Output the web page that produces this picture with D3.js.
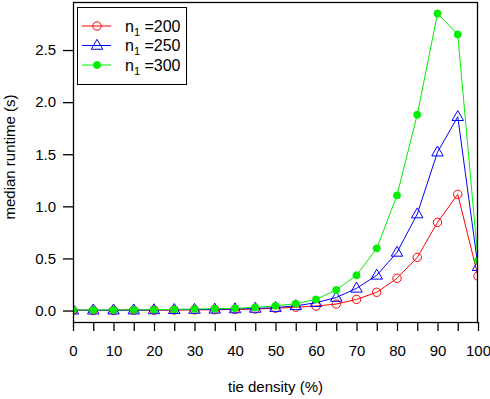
<!DOCTYPE html>
<html>
<head>
<meta charset="utf-8">
<script src="https://cdn.jsdelivr.net/npm/d3@7"></script>
<style>
  html, body { margin: 0; padding: 0; background: #fff; }
  svg { display: block; font-family: "Liberation Sans", Arial, sans-serif; }
</style>
</head>
<body>
<svg id="chart" width="490" height="399"></svg>
<script>
const tieDensity = [0,5,10,15,20,25,30,35,40,45,50,55,60,65,70,75,80,85,90,95,100];
const n200 = [0.002,0.002,0.002,0.003,0.004,0.005,0.006,0.008,0.010,0.014,0.022,0.032,0.043,0.062,0.107,0.175,0.309,0.51,0.846,1.115,0.33];
const n250 = [0.003,0.003,0.003,0.004,0.006,0.008,0.010,0.012,0.015,0.020,0.028,0.045,0.075,0.125,0.213,0.338,0.558,0.926,1.52,1.86,0.42];
const n300 = [0.005,0.005,0.005,0.007,0.009,0.011,0.014,0.017,0.021,0.030,0.045,0.065,0.107,0.197,0.338,0.597,1.105,1.88,2.85,2.65,0.48];
const xTicks = [0,5,10,15,20,25,30,35,40,45,50,55,60,65,70,75,80,85,90,95,100];
const xTickLabels = [0,10,20,30,40,50,60,70,80,90,100];
const yTicks = [0,0.5,1.0,1.5,2.0,2.5];
const seriesNames = ["200","250","300"];

const svg = d3.select("#chart");
const L = 73, R = 478, T = 2, B = 322;
const x = d3.scaleLinear().domain([0,100]).range([L,R]);
const y = d3.scaleLinear().domain([-0.110, 2.961]).range([B,T]);

const series = [
  {name: seriesNames[0], values: n200, color: "#ff0000", shape: "circle"},
  {name: seriesNames[1], values: n250, color: "#0000ff", shape: "triangle"},
  {name: seriesNames[2], values: n300, color: "#00ee00", shape: "dot"}
];

svg.append("clipPath").attr("id","clip").append("rect")
  .attr("x",L).attr("y",T).attr("width",R-L).attr("height",B-T);

const triPath = (cx, cy, s) => {
  const h = s*0.866;
  return `M${cx},${cy-h*0.62}L${cx+s/2},${cy+h*0.38}L${cx-s/2},${cy+h*0.38}Z`;
};

function drawMarker(g, shape, color, cx, cy) {
  if (shape === "circle") {
    g.append("circle").attr("cx",cx).attr("cy",cy).attr("r",4.2)
      .attr("fill","none").attr("stroke",color).attr("stroke-width",1);
  } else if (shape === "triangle") {
    g.append("path").attr("d",triPath(cx,cy,11.5))
      .attr("fill","none").attr("stroke",color).attr("stroke-width",1);
  } else {
    g.append("circle").attr("cx",cx).attr("cy",cy).attr("r",3.7)
      .attr("fill",color).attr("stroke",color).attr("stroke-width",0.4);
  }
}

const plotG = svg.append("g").attr("clip-path","url(#clip)");
const line = d3.line().x((d,i)=>x(tieDensity[i])).y(d=>y(d));
series.forEach(s => {
  const g = plotG.append("g");
  g.append("path").attr("d", line(s.values)).attr("fill","none")
    .attr("stroke", s.color).attr("stroke-width",1);
  s.values.forEach((v,i) => drawMarker(g, s.shape, s.color, x(tieDensity[i]), y(v)));
});

// box
svg.append("rect").attr("x",L+0.5).attr("y",T+0.5).attr("width",R-L-1).attr("height",B-T)
  .attr("fill","none").attr("stroke","#000").attr("stroke-width",1.3);

// x axis
const xAxis = d3.axisBottom(x).tickValues(xTicks).tickSize(9).tickPadding(14)
  .tickFormat(d => xTickLabels.includes(d) ? d : "");
const gx = svg.append("g").attr("transform",`translate(0,${B})`).call(xAxis);
gx.select(".domain").remove();
gx.selectAll(".tick line").attr("stroke","#000").attr("stroke-width",1.3);
gx.selectAll(".tick text").attr("font-size",15).attr("fill","#000")
  .attr("font-family","'Liberation Sans', Arial, sans-serif");

// y axis
const yAxis = d3.axisLeft(y).tickValues(yTicks).tickSize(10).tickPadding(7)
  .tickFormat(d3.format(".1f"));
const gy = svg.append("g").attr("transform",`translate(${L},0)`).call(yAxis);
gy.select(".domain").remove();
gy.selectAll(".tick line").attr("stroke","#000").attr("stroke-width",1.3);
gy.selectAll(".tick text").attr("font-size",15).attr("fill","#000")
  .attr("font-family","'Liberation Sans', Arial, sans-serif");

// titles
svg.append("text").attr("x",(L+R)/2).attr("y",392).attr("text-anchor","middle")
  .attr("font-size",15).text("tie density (%)");
svg.append("text").attr("transform","translate(15,157) rotate(-90)")
  .attr("text-anchor","middle").attr("font-size",15).text("median runtime (s)");

// legend
const lg = svg.append("g");
lg.append("rect").attr("x",77.5).attr("y",7.5).attr("width",109).attr("height",77)
  .attr("fill","#fff").attr("stroke","#000").attr("stroke-width",1);
series.forEach((s,i) => {
  const cy = 26 + i*19.5;
  lg.append("line").attr("x1",82).attr("x2",111).attr("y1",cy).attr("y2",cy)
    .attr("stroke",s.color).attr("stroke-width",1);
  drawMarker(lg, s.shape, s.color, 97, cy);
  const t = lg.append("text").attr("x",125).attr("y",cy+5.5).attr("font-size",16);
  t.append("tspan").text("n");
  t.append("tspan").attr("font-size",11).attr("dy",4).text("1");
  t.append("tspan").attr("dy",-4).text(" =" + s.name);
});
</script>
</body>
</html>
